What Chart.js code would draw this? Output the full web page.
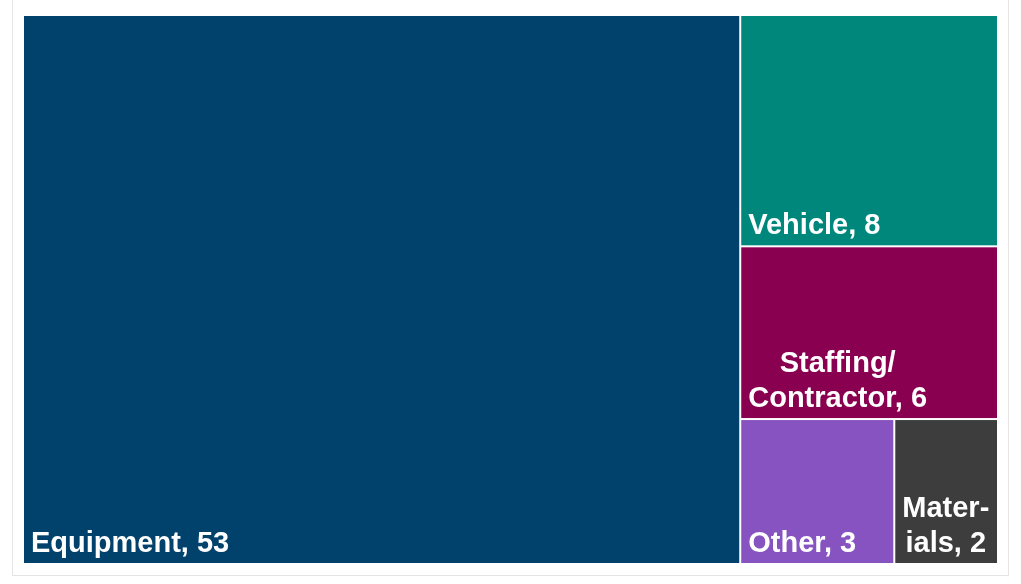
<!DOCTYPE html>
<html>
<head>
<meta charset="utf-8">
<script src="https://cdn.jsdelivr.net/npm/chart.js@4/dist/chart.umd.min.js"></script>
<style>
  html, body { margin: 0; padding: 0; background: #fff; }
  #wrap { position: relative; width: 1021px; height: 584px; }
  #frame { position: absolute; left: 12px; top: -2px; width: 997px; height: 578px;
           border: 1px solid #e4e4e4; border-top: none; box-sizing: border-box; }
  canvas { position: absolute; left: 0; top: 0; }
</style>
</head>
<body>
<div id="wrap">
  <div id="frame"></div>
  <canvas id="tree" width="1021" height="584"></canvas>
</div>
<script>
// data
const categories = ['Equipment', 'Vehicle', 'Staffing/Contractor', 'Other', 'Materials'];
const counts = [53, 8, 6, 3, 2];
const colors = ['#00426c', '#00877c', '#8a0050', '#8653c1', '#3d3d3d'];

const FONT = 'bold 29px "Liberation Sans", Arial, sans-serif';

// squarified layout, done in pixel proportions then mapped back to 0..1 data units
function squarify(values, W, H) {
  const total = values.reduce((a, b) => a + b, 0);
  const scale = (W * H) / total;
  const areas = values.map(v => v * scale);
  const out = [];
  let rect = { x: 0, y: 0, w: W, h: H };
  let i = 0;

  function worst(row, side) {
    const s = row.reduce((a, b) => a + b, 0);
    let max = 0;
    row.forEach(a => {
      const r = Math.max((side * side * a) / (s * s), (s * s) / (side * side * a));
      if (r > max) max = r;
    });
    return max;
  }

  while (i < areas.length) {
    const side = Math.min(rect.w, rect.h);
    let row = [areas[i]];
    let j = i + 1;
    while (j < areas.length && worst(row.concat(areas[j]), side) <= worst(row, side)) {
      row.push(areas[j]);
      j++;
    }
    const s = row.reduce((a, b) => a + b, 0);
    if (rect.w >= rect.h) {
      // column on the left
      const cw = s / rect.h;
      let y = rect.y;
      row.forEach((a, k) => {
        const hh = a / cw;
        out[i + k] = { x: rect.x, y: y, w: cw, h: hh };
        y += hh;
      });
      rect = { x: rect.x + cw, y: rect.y, w: rect.w - cw, h: rect.h };
    } else {
      // row on the top
      const rh = s / rect.w;
      let x = rect.x;
      row.forEach((a, k) => {
        const ww = a / rh;
        out[i + k] = { x: x, y: rect.y, w: ww, h: rh };
        x += ww;
      });
      rect = { x: rect.x, y: rect.y + rh, w: rect.w, h: rect.h - rh };
    }
    i = j;
  }
  return out.map(r => ({ x0: r.x / W, x1: (r.x + r.w) / W, y0: r.y / H, y1: (r.y + r.h) / H }));
}

// break a label into lines that fit the cell, hyphenating long words
function wrapLabel(ctx, text, maxW) {
  const tokens = text.replace(/\//g, '/ ').split(' ').filter(t => t.length);
  const lines = [];
  let cur = '';
  let joinSpace = true;
  tokens.forEach(tok => {
    let word = tok;
    while (word.length) {
      const trial = cur ? cur + (joinSpace ? ' ' : '') + word : word;
      if (ctx.measureText(trial).width <= maxW) {
        cur = trial;
        word = '';
      } else if (cur) {
        lines.push(cur);
        cur = '';
      } else {
        // word alone is too wide: hyphenate
        let n = word.length - 1;
        while (n > 1 && ctx.measureText(word.slice(0, n) + '-').width > maxW) n--;
        lines.push(word.slice(0, n) + '-');
        word = word.slice(n);
      }
    }
    joinSpace = !tok.endsWith('/');
  });
  if (cur) lines.push(cur);
  return lines;
}

const treemapPlugin = {
  id: 'treemap',
  beforeDatasetsDraw(chart) {
    const { ctx, chartArea, scales } = chart;
    const cells = squarify(counts, chartArea.width, chartArea.height);
    ctx.save();
    cells.forEach((c, i) => {
      const left = scales.x.getPixelForValue(c.x0);
      const right = scales.x.getPixelForValue(c.x1);
      const top = scales.y.getPixelForValue(c.y0);
      const bottom = scales.y.getPixelForValue(c.y1);
      const l = left + (c.x0 > 0 ? 1 : 0);
      const r = right - (c.x1 < 1 ? 1 : 0);
      const t = top + (c.y0 > 0 ? 1 : 0);
      const b = bottom - (c.y1 < 1 ? 1 : 0);
      ctx.fillStyle = colors[i];
      ctx.fillRect(l, t, r - l, b - t);

      ctx.font = FONT;
      ctx.fillStyle = '#ffffff';
      ctx.textBaseline = 'alphabetic';
      ctx.textAlign = 'center';
      const lines = wrapLabel(ctx, categories[i] + ', ' + counts[i], (r - l) - 11);
      const blockW = Math.max(...lines.map(s => ctx.measureText(s).width));
      const cx = l + 7 + blockW / 2;
      const lineH = 35;
      lines.forEach((s, k) => {
        const y = b - 11 - (lines.length - 1 - k) * lineH;
        ctx.fillText(s, cx, y);
      });
    });
    ctx.restore();
  }
};

new Chart(document.getElementById('tree'), {
  type: 'scatter',
  data: { datasets: [{ data: [] }] },
  options: {
    responsive: false,
    animation: false,
    events: [],
    layout: { padding: { left: 24, right: 24, top: 16, bottom: 21 } },
    scales: {
      x: { type: 'linear', min: 0, max: 1, display: false },
      y: { type: 'linear', min: 0, max: 1, reverse: true, display: false }
    },
    plugins: { legend: { display: false }, tooltip: { enabled: false } }
  },
  plugins: [treemapPlugin]
});
</script>
</body>
</html>
